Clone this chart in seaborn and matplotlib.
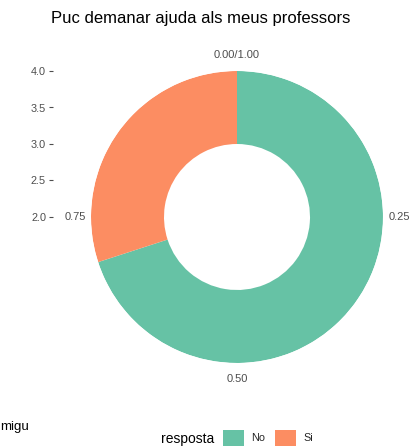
import numpy as np
import matplotlib
matplotlib.use('Agg')
import matplotlib.pyplot as plt
import seaborn as sns
from matplotlib.patches import Patch

# data
respostes = ['No', 'Si']
proporcions = [0.70, 0.30]
theta_labels = ['0.00/1.00', '0.25', '0.50', '0.75']
radial_ticks = [2.0, 2.5, 3.0, 3.5, 4.0]

sns.set_theme(style='white')
plt.rcParams['font.family'] = ['Liberation Sans', 'DejaVu Sans']
colors = sns.color_palette('Set2', len(respostes))

W, H = 412, 448
fig = plt.figure(figsize=(W / 100, H / 100), dpi=100)
fig.patch.set_facecolor('white')

cx, cy, R = 237, 217, 146  # centre / radius in pixels (from top)
box = [(cx - R) / W, (H - cy - R) / H, 2 * R / W, 2 * R / H]

ax = fig.add_axes(box, projection='polar')
ax.set_theta_zero_location('N')
ax.set_theta_direction(-1)

starts = np.concatenate([[0], np.cumsum(proporcions)[:-1]])
for resp, start, prop, col in zip(respostes, starts, proporcions, colors):
    ax.bar(2 * np.pi * start, 1, width=2 * np.pi * prop, bottom=3,
           align='edge', color=col, edgecolor='none', label=resp)

ax.set_ylim(2, 4)
ax.set_yticks([])
ax.grid(False)
ax.spines['polar'].set_visible(False)
ax.set_xticks(np.linspace(0, 2 * np.pi, 4, endpoint=False))
ax.set_xticklabels(theta_labels, color='#4D4D4D', fontsize=8)
ax.tick_params(axis='x', pad=-1.5)

# radial axis drawn at the left, like ggplot's coord_polar
rax = fig.add_axes([53 / W, box[1], 0.001, box[3]])
rax.set_ylim(0, 4)
rax.set_yticks(radial_ticks)
rax.set_yticklabels([f'{t:.1f}' for t in radial_ticks], color='#4D4D4D', fontsize=7.8)
rax.set_xticks([])
rax.tick_params(axis='y', length=3, width=0.8, color='#4D4D4D', left=True, pad=2)
for s in rax.spines.values():
    s.set_visible(False)
rax.patch.set_alpha(0)

fig.text(201 / W, 1 - 19 / H, 'Puc demanar ajuda als meus professors',
         ha='center', va='center', fontsize=12, color='black')

fig.text(0, 1 - 427 / H, 'migu', ha='left', va='center', fontsize=9.5, color='black')

fig.text(188 / W, 1 - 439 / H, 'resposta', ha='center', va='center', fontsize=10, color='black')
handles = [Patch(facecolor=c, edgecolor='none') for c in colors]
fig.legend(handles, respostes, loc='center left', bbox_to_anchor=(223 / W, 1 - 438 / H),
           ncol=2, frameon=False, fontsize=7.8, handlelength=1.9, handleheight=1.9,
           handletextpad=0.7, columnspacing=0.9, borderpad=0, borderaxespad=0)

fig.savefig('out.png', dpi=100, facecolor='white')
